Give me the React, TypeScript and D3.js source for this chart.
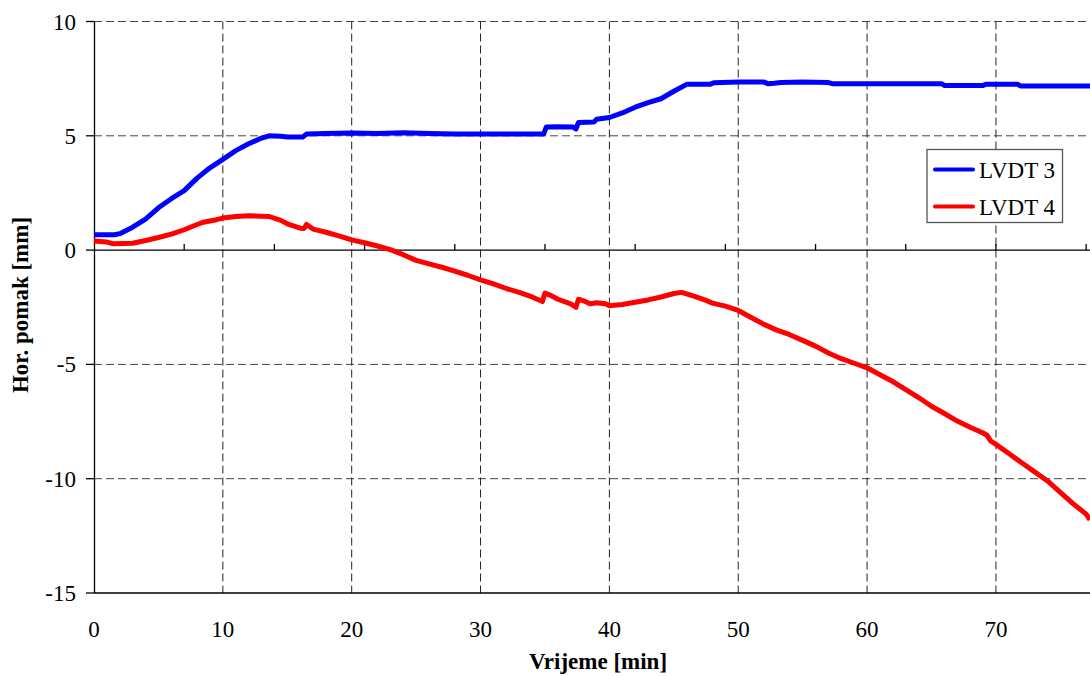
import React from "react";
import * as d3 from "d3";

const W = 1090;
const H = 676;

const xTickValues = [0, 10, 20, 30, 40, 50, 60, 70];
const yTickValues = [-15, -10, -5, 0, 5, 10];
const zeroLineTicks = [7, 14, 21, 28, 35, 42, 49, 56, 63, 70, 77];

const lvdt3: [number, number][] = [
  [0, 0.67], [1.6, 0.67], [2, 0.72], [3, 1.0], [4, 1.35], [5, 1.85], [6, 2.25], [7, 2.6],
  [8, 3.15], [9, 3.6], [10, 3.97], [11, 4.35], [12, 4.65], [13, 4.9], [13.6, 5.0],
  [14.5, 4.98], [15, 4.95], [16.2, 4.95], [16.5, 5.08], [18, 5.1], [20, 5.12], [22, 5.1],
  [24, 5.13], [26, 5.1], [28, 5.08], [30, 5.08], [32, 5.08], [34.9, 5.08], [35.1, 5.38],
  [36, 5.4], [37.2, 5.38], [37.4, 5.3], [37.6, 5.58], [38.8, 5.6], [39, 5.72], [40, 5.8],
  [41, 6.0], [42, 6.25], [43, 6.45], [44, 6.62], [45, 6.95], [46, 7.25], [47, 7.25],
  [47.8, 7.25], [48.1, 7.32], [50, 7.35], [52, 7.35], [52.3, 7.28], [52.8, 7.3],
  [53.3, 7.33], [55, 7.35], [57, 7.33], [57.3, 7.28], [60, 7.28], [62, 7.28], [65.8, 7.28],
  [66, 7.2], [69, 7.2], [69.2, 7.25], [71.7, 7.25], [71.9, 7.18], [77.3, 7.18],
];

const lvdt4: [number, number][] = [
  [0, 0.4], [1, 0.35], [1.5, 0.28], [3, 0.3], [4, 0.42], [5, 0.55], [6, 0.7], [7, 0.89],
  [8, 1.12], [8.5, 1.22], [9.5, 1.33], [10, 1.4], [11, 1.47], [12, 1.5], [13.6, 1.47],
  [14.5, 1.3], [15, 1.15], [16, 0.96], [16.3, 0.95], [16.5, 1.12], [17, 0.92], [18, 0.78],
  [19, 0.62], [20, 0.45], [21, 0.32], [22, 0.18], [23, 0.02], [24, -0.2], [25, -0.45],
  [26, -0.6], [27, -0.75], [28, -0.92], [29, -1.1], [30, -1.3], [31, -1.48], [32, -1.68],
  [33, -1.85], [34, -2.05], [34.8, -2.25], [35, -1.88], [35.5, -2.0], [36, -2.15],
  [37, -2.35], [37.4, -2.5], [37.6, -2.15], [38, -2.22], [38.5, -2.35], [39, -2.3],
  [39.7, -2.35], [40, -2.43], [41, -2.38], [42, -2.28], [43, -2.18], [44, -2.05],
  [45, -1.9], [45.6, -1.85], [46.5, -2.0], [47.5, -2.2], [48, -2.32], [49, -2.45],
  [50, -2.64], [51, -2.95], [52, -3.25], [53, -3.5], [54, -3.7], [55, -3.95], [56, -4.2],
  [57, -4.5], [58, -4.75], [59, -4.95], [60, -5.15], [61, -5.45], [62, -5.75], [63, -6.1],
  [64, -6.45], [65, -6.83], [66, -7.15], [67, -7.48], [68, -7.75], [69, -8.0], [69.3, -8.1],
  [69.6, -8.35], [70, -8.5], [71, -8.9], [72, -9.3], [73, -9.7], [74, -10.1], [75, -10.6],
  [76, -11.1], [77, -11.55], [77.3, -11.8],
];

const seriesNames = ["LVDT 3", "LVDT 4"];
const seriesColors = ["#0000ff", "#ff0000"];

const FONT = "'Liberation Serif', 'Times New Roman', Times, 'DejaVu Serif', serif";

export default function App() {
  const x = d3.scaleLinear().domain([0, 77.3]).range([94, 1090]);
  const y = d3.scaleLinear().domain([-15, 10]).range([593, 21.5]);
  const line = d3
    .line<[number, number]>()
    .x((d) => x(d[0]))
    .y((d) => y(d[1]));
  const [x0, x1] = x.range();
  const yTop = y(10);
  const yBot = y(-15);

  return (
    <div style={{ position: "absolute", left: 0, top: 0, fontFamily: FONT }}>
      <svg
        width={W}
        height={H}
        style={{ display: "block", background: "#fff", fontFamily: FONT }}
        fontFamily={FONT}
      >
        <rect x={0} y={0} width={W} height={H} fill="#fff" />
        {yTickValues
          .filter((v) => v !== 0 && v !== -15)
          .map((v) => (
            <line
              key={"hg" + v}
              x1={x0}
              x2={x1}
              y1={y(v)}
              y2={y(v)}
              stroke="#444"
              strokeWidth={1}
              strokeDasharray="8,4"
            />
          ))}
        {xTickValues
          .filter((v) => v !== 0)
          .map((v) => (
            <line
              key={"vg" + v}
              x1={x(v)}
              x2={x(v)}
              y1={yTop}
              y2={yBot}
              stroke="#222"
              strokeWidth={1}
              strokeDasharray="8,4"
            />
          ))}
        <line x1={x0} x2={x1} y1={yBot} y2={yBot} stroke="#000" strokeWidth={1.3} />
        <line x1={x0 + 0.5} x2={x0 + 0.5} y1={yTop} y2={yBot} stroke="#000" strokeWidth={1.3} />
        {yTickValues.map((v) => (
          <g key={"yt" + v}>
            <line x1={x0 - 8} x2={x0} y1={y(v)} y2={y(v)} stroke="#000" strokeWidth={1.3} />
            <text x={76} y={y(v)} dy="0.35em" textAnchor="end" fontSize={23} fill="#000">
              {v}
            </text>
          </g>
        ))}
        <line x1={x0} x2={x1} y1={y(0)} y2={y(0)} stroke="#000" strokeWidth={1.3} />
        {zeroLineTicks.map((v) => (
          <line
            key={"zt" + v}
            x1={x(v)}
            x2={x(v)}
            y1={y(0)}
            y2={y(0) - 6}
            stroke="#000"
            strokeWidth={1.3}
          />
        ))}
        {xTickValues.map((v) => (
          <text key={"xt" + v} x={x(v)} y={637} textAnchor="middle" fontSize={23} fill="#000">
            {v}
          </text>
        ))}
        <path d={line(lvdt4) || ""} fill="none" stroke={seriesColors[1]} strokeWidth={5} strokeLinejoin="round" />
        <path d={line(lvdt3) || ""} fill="none" stroke={seriesColors[0]} strokeWidth={5} strokeLinejoin="round" />
        <rect x={927} y={149.5} width={135.5} height={73} fill="#fff" stroke="#555" strokeWidth={1.3} />
        {seriesNames.map((name, i) => (
          <g key={name}>
            <line
              x1={935}
              x2={973}
              y1={169.5 + i * 37}
              y2={169.5 + i * 37}
              stroke={seriesColors[i]}
              strokeWidth={4}
              strokeLinecap="round"
            />
            <text x={979} y={169.5 + i * 37} dy="0.35em" fontSize={23} fill="#000">
              {name}
            </text>
          </g>
        ))}
        <text x={598} y={669} textAnchor="middle" fontSize={23} fontWeight="bold" fill="#000">
          Vrijeme [min]
        </text>
        <text
          transform={`translate(28, ${305}) rotate(-90)`}
          textAnchor="middle"
          fontSize={23}
          fontWeight="bold"
          fill="#000"
        >
          Hor. pomak [mm]
        </text>
      </svg>
    </div>
  );
}
